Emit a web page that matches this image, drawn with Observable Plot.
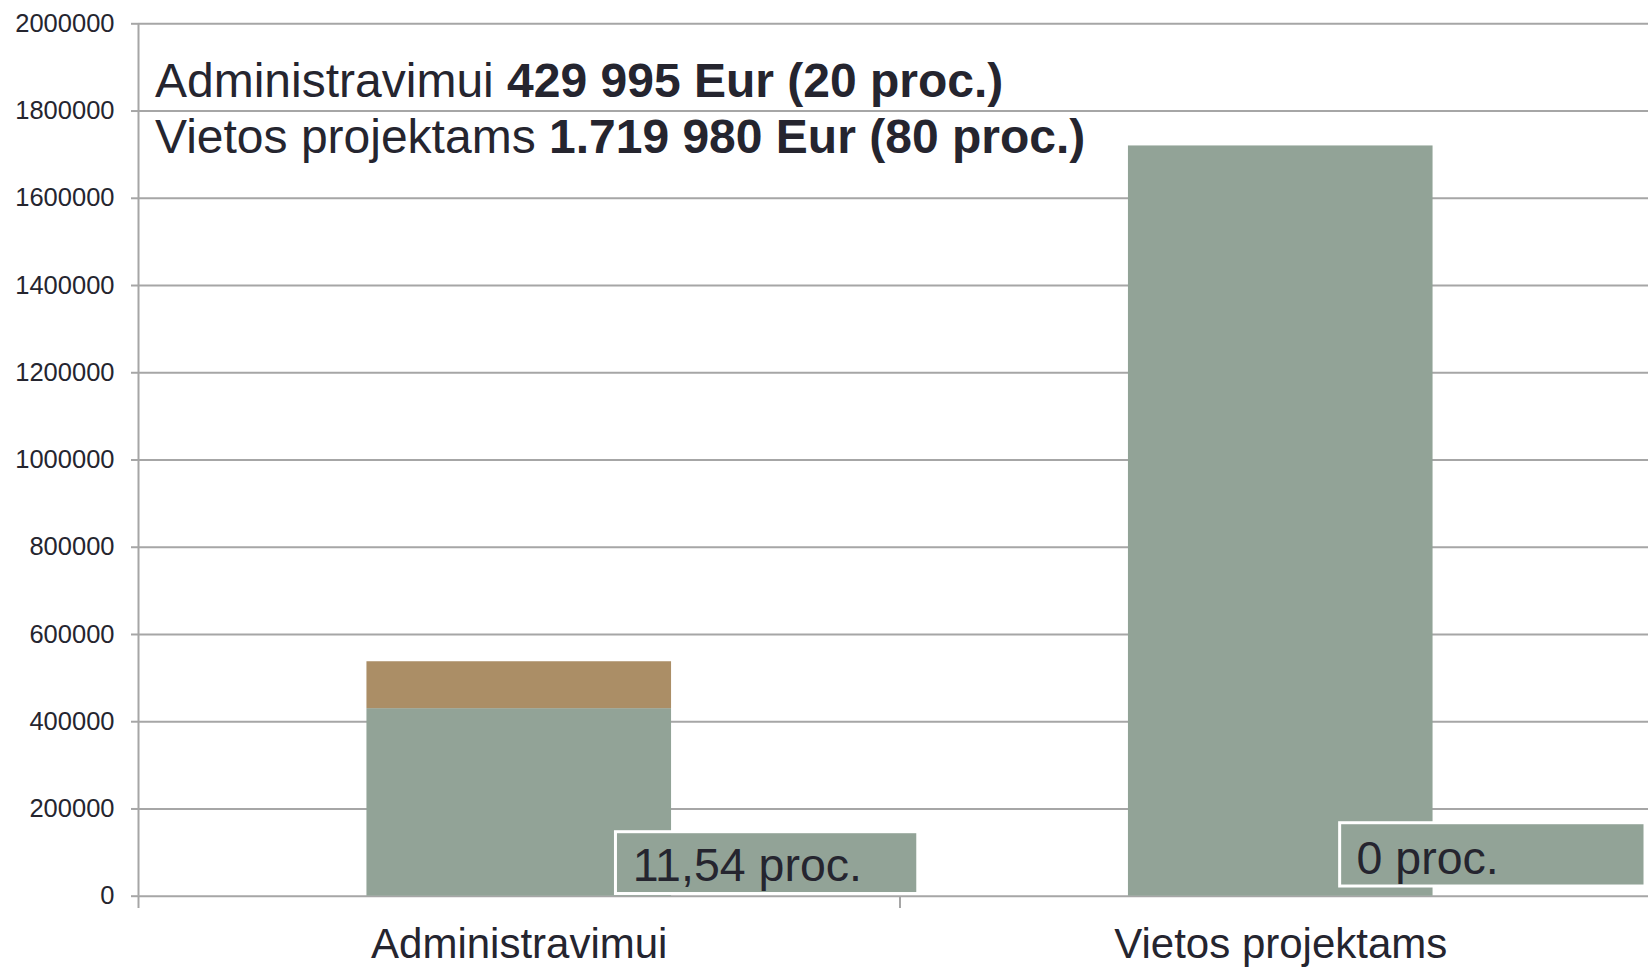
<!DOCTYPE html>
<html>
<head>
<meta charset="utf-8">
<script src="https://cdn.jsdelivr.net/npm/d3@7"></script>
<script src="https://cdn.jsdelivr.net/npm/@observablehq/plot@0.6"></script>
<style>
  html, body { margin: 0; padding: 0; background: #fff; }
  #chart { width: 1648px; height: 967px; overflow: hidden; }
</style>
</head>
<body>
<div id="chart"></div>
<script>
// ---- data ----
const categories = ["Administravimui", "Vietos projektams"];
const baseValues = [429995, 1719980];
const extraValues = [107500, 0];
const yTicks = [0, 200000, 400000, 600000, 800000, 1000000, 1200000, 1400000, 1600000, 1800000, 2000000];
const pctLabels = ["11,54 proc.", "0 proc."];
const headerLines = [
  ["Administravimui ", "429 995 Eur (20 proc.)"],
  ["Vietos projektams ", "1.719 980 Eur (80 proc.)"]
];

// ---- build table ----
const rows = [];
categories.forEach((c, i) => {
  rows.push({i, cat: c, series: "base", y1: 0, y2: baseValues[i]});
  if (extraValues[i] > 0) rows.push({i, cat: c, series: "extra", y1: baseValues[i], y2: baseValues[i] + extraValues[i]});
});

const pad = 0.3; // category gap fraction on each side
const textColor = "#25252f";
const gridColor = "#a6a6a6";
const fillBase = "#92a397";
const fillExtra = "#ab8e66";

// annotation boxes (layout in scale units)
const boxes = [
  {label: pctLabels[0], x1: 0.627, x2: 1.024, y1: 5000, y2: 146700, tx: 0.649, ty: 68000},
  {label: pctLabels[1], x1: 1.578, x2: 1.979, y1: 22200, y2: 167300, tx: 1.5995, ty: 85700}
];

const chart = Plot.plot({
  width: 1648,
  height: 967,
  marginLeft: 138,
  marginRight: 0,
  marginTop: 23,
  marginBottom: 71,
  style: {fontFamily: "'Liberation Sans', Arial, sans-serif", color: textColor, background: "#fff"},
  x: {type: "linear", domain: [0, 2], range: [138, 1661], axis: null},
  y: {domain: [0, 2000000], range: [895.7, 23.3], axis: null},
  marks: [
    Plot.ruleY(yTicks, {stroke: gridColor, strokeWidth: 2}),
    Plot.ruleX([0], {y1: 0, y2: 2000000, stroke: gridColor, strokeWidth: 2}),
    Plot.axisY({ticks: yTicks, tickSize: 7, tickPadding: 17, fontSize: 25.5, stroke: gridColor, strokeWidth: 2, fill: textColor, tickFormat: d => String(d)}),
    Plot.axisX({ticks: [0, 1, 2], tickSize: 12, stroke: gridColor, strokeWidth: 2, tickFormat: () => ""}),
    Plot.axisX({ticks: [0.5, 1.5], tickSize: 0, tickPadding: 32, fontSize: 42, fill: textColor, tickFormat: v => categories[Math.floor(v)]}),
    Plot.rect(rows, {
      x1: d => d.i + pad, x2: d => d.i + 1 - pad,
      y1: "y1", y2: "y2",
      fill: d => d.series === "base" ? fillBase : fillExtra
    }),
    Plot.rect(boxes, {x1: "x1", x2: "x2", y1: "y1", y2: "y2", fill: fillBase, stroke: "#fff", strokeWidth: 3}),
    Plot.text(boxes, {x: "tx", y: "ty", text: "label", textAnchor: "start", fontSize: 46.5, fill: textColor})
  ]
});

// header annotation with mixed weights
const svg = d3.select(chart);
headerLines.forEach((parts, k) => {
  const t = svg.append("text")
    .attr("x", 155)
    .attr("y", 97 + k * 56)
    .attr("font-size", 48)
    .attr("text-anchor", "start")
    .attr("fill", textColor)
    .attr("font-family", "'Liberation Sans', Arial, sans-serif");
  t.append("tspan").text(parts[0]);
  t.append("tspan").attr("font-weight", "bold").text(parts[1]);
});

document.getElementById("chart").appendChild(chart);
</script>
</body>
</html>
